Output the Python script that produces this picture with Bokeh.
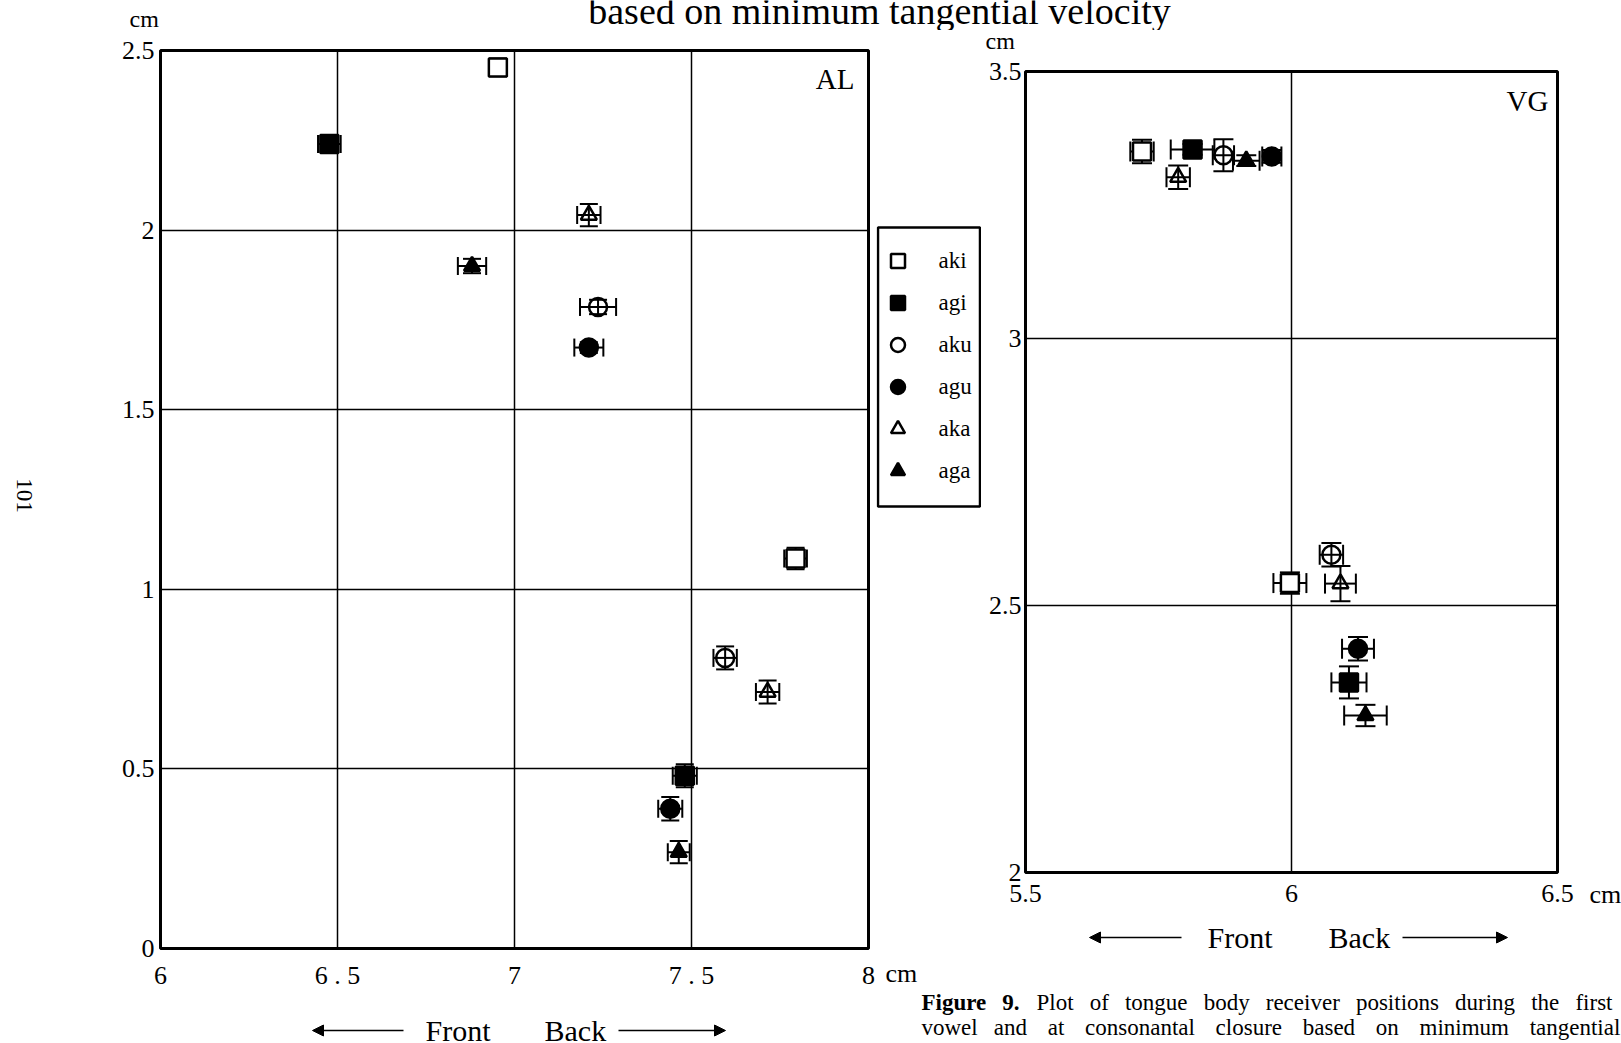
import math
from bokeh.plotting import figure
from bokeh.models import (Range1d, Label, Whisker, TeeHead, ColumnDataSource, Legend,
                          LegendItem, Arrow, NormalHead, FixedTicker, BoxAnnotation)
from bokeh.layouts import column, row
from bokeh.embed import file_html
from bokeh.resources import INLINE

# ---------------- data ----------------
categories = ["aki", "agi", "aku", "agu", "aka", "aga"]

# AL speaker: two points per category
al_x = [[6.953, 7.794], [6.477, 7.481], [7.236, 7.595], [7.210, 7.440], [7.210, 7.715], [6.880, 7.464]]
al_y = [[2.453, 1.086], [2.240, 0.481], [1.786, 0.809], [1.673, 0.389], [2.042, 0.714], [1.900, 0.268]]
al_xerr = [[0.025, 0.032], [0.032, 0.034], [0.051, 0.033], [0.041, 0.034], [0.033, 0.033], [0.040, 0.031]]
al_yerr = [[0.025, 0.030], [0.012, 0.032], [0.020, 0.032], [0.015, 0.033], [0.031, 0.032], [0.020, 0.031]]

# VG speaker
vg_x = [[5.719, 5.997], [5.814, 6.108], [5.872, 6.075], [5.963, 6.125], [5.787, 6.092], [5.915, 6.139]]
vg_y = [[3.350, 2.542], [3.354, 2.356], [3.343, 2.595], [3.341, 2.419], [3.302, 2.541], [3.333, 2.294]]
vg_xerr = [[0.022, 0.031], [0.041, 0.033], [0.020, 0.022], [0.018, 0.030], [0.022, 0.029], [0.025, 0.040]]
vg_yerr = [[0.022, 0.020], [0.010, 0.030], [0.030, 0.022], [0.012, 0.022], [0.022, 0.033], [0.010, 0.020]]

al_xticks = [6, 6.5, 7, 7.5, 8]
al_xlabels = ["6", "6 . 5", "7", "7 . 5", "8"]
al_yticks = [0, 0.5, 1, 1.5, 2, 2.5]
al_ylabels = ["0", "0.5", "1", "1.5", "2", "2.5"]
vg_xticks = [5.5, 6, 6.5]
vg_xlabels = ["5.5", "6", "6.5"]
vg_yticks = [2, 2.5, 3, 3.5]
vg_ylabels = ["2", "2.5", "3", "3.5"]

title_text = "based on minimum tangential velocity"
caption_bold = "Figure 9."
caption_line1 = "Plot of tongue body receiver positions during the first"
caption_line2 = "vowel and at consonantal closure based on minimum tangential"

# ---------------- styles ----------------
FONT = "Liberation Serif"
marker_style = {"aki": ("square", False), "agi": ("square", True),
                "aku": ("circle", False), "agu": ("circle", True),
                "aka": ("triangle", False), "aga": ("triangle", True)}
marker_size = {"square": 18, "circle": 18, "triangle": 16}


def txt(p, x, y, s, size, align="left", baseline="middle", style="normal", angle=0.0):
    p.add_layout(Label(x=x, y=y, x_units="screen", y_units="screen", text=s,
                       text_font=FONT, text_font_size=f"{size}px", text_align=align,
                       text_baseline=baseline, text_font_style=style, angle=angle,
                       text_color="black"))


def arrow(p, x0, x1, y):
    p.add_layout(Arrow(end=NormalHead(size=11, fill_color="black", line_color="black", line_width=1),
                       x_start=x0, y_start=y, x_end=x1, y_end=y,
                       start_units="screen", end_units="screen",
                       line_color="black", line_width=1.6))


def blank(w, h, xr=None, yr=None):
    f = figure(width=w, height=h,
               x_range=xr if xr is not None else Range1d(0, w),
               y_range=yr if yr is not None else Range1d(0, h), min_border=0,
               toolbar_location=None, output_backend="svg", x_axis_location=None,
               y_axis_location=None, title=None, frame_align=False)
    f.outline_line_color = None
    f.grid.visible = False
    f.background_fill_color = "white"
    f.border_fill_color = "white"
    return f


def style_plot(p, xticks, xlabels, yticks, ylabels, ystandoff):
    p.outline_line_color = "black"
    p.outline_line_width = 3
    p.background_fill_color = "white"
    p.border_fill_color = "white"
    p.xaxis.ticker = FixedTicker(ticks=xticks)
    p.yaxis.ticker = FixedTicker(ticks=yticks)
    p.xaxis.major_label_overrides = dict(zip(xticks, xlabels))
    p.yaxis.major_label_overrides = dict(zip(yticks, ylabels))
    for ax in (p.xaxis, p.yaxis):
        ax.axis_line_color = None
        ax.major_tick_line_color = None
        ax.minor_tick_line_color = None
        ax.major_tick_out = 0
        ax.major_tick_in = 0
        ax.minor_tick_out = 0
        ax.minor_tick_in = 0
        ax.major_label_text_font = FONT
        ax.major_label_text_font_size = "26px"
        ax.major_label_text_color = "black"
    p.xaxis.major_label_standoff = 12
    p.yaxis.major_label_standoff = ystandoff
    p.xgrid.ticker = FixedTicker(ticks=xticks)
    p.ygrid.ticker = FixedTicker(ticks=yticks)
    p.grid.grid_line_color = "black"
    p.grid.grid_line_width = 1.5
    p.grid.grid_line_alpha = 1.0


def marker_kw(cat):
    m, filled = marker_style[cat]
    opaque = filled or m == "square"
    return dict(marker=m, size=marker_size[m], fill_color="black" if filled else "white",
                fill_alpha=1.0 if opaque else 0.0, line_color="black", line_width=2.5)


def draw_points(p, xs, ys, xerrs, yerrs, cap):
    bx, by, bxl, bxu, byl, byu = [], [], [], [], [], []
    for i in range(len(categories)):
        for j in range(len(xs[i])):
            bx.append(xs[i][j]); by.append(ys[i][j])
            bxl.append(xs[i][j] - xerrs[i][j]); bxu.append(xs[i][j] + xerrs[i][j])
            byl.append(ys[i][j] - yerrs[i][j]); byu.append(ys[i][j] + yerrs[i][j])
    src = ColumnDataSource(dict(x=bx, y=by, xl=bxl, xu=bxu, yl=byl, yu=byu))
    for dim, base, lo, up in (("width", "y", "xl", "xu"), ("height", "x", "yl", "yu")):
        p.add_layout(Whisker(source=src, base=base, lower=lo, upper=up, dimension=dim,
                             line_color="black", line_width=2,
                             upper_head=TeeHead(size=cap, line_width=2, line_color="black"),
                             lower_head=TeeHead(size=cap, line_width=2, line_color="black")))
    for i, cat in enumerate(categories):
        p.scatter(x=xs[i], y=ys[i], **marker_kw(cat))


# ---------------- title strip (0..30) ----------------
top = blank(1621, 30)
txt(top, 879, 20, title_text, 38, align="center")
txt(top, 129, 11.2, "cm", 24)

# ---------------- left block ----------------
s101 = blank(40, 965)
txt(s101, 23.5, 500, "101", 23, align="center", angle=-math.pi / 2)

p1 = figure(width=836, height=965, x_range=Range1d(6, 8), y_range=Range1d(0, 2.5),
            min_border_left=120, min_border_right=8, min_border_top=20, min_border_bottom=47,
            toolbar_location=None, output_backend="svg", frame_align=False)
style_plot(p1, al_xticks, al_xlabels, al_yticks, al_ylabels, 6)
draw_points(p1, al_x, al_y, al_xerr, al_yerr, 18)
txt(p1, 694, 870, "AL", 29, align="right")

s_bl = blank(876, 48)
txt(s_bl, 425, 13.2, "Front", 30)
txt(s_bl, 544, 13.2, "Back", 30)
arrow(s_bl, 403, 312, 13)
arrow(s_bl, 618, 725, 13)

# ---------------- right block ----------------
s_t7 = blank(745, 20)
txt(s_t7, 109, 9.6, "cm", 24)

# legend panel (876..981); its ranges keep the sample glyphs out of view,
# so only the legend itself is shown here
lg = blank(105, 866, xr=Range1d(-2, -1), yr=Range1d(-2, -1))
lg_rends = {c: lg.scatter(x=vg_x[i], y=vg_y[i], **marker_kw(c)) for i, c in enumerate(categories)}
legend = Legend(items=[LegendItem(label=c, renderers=[lg_rends[c]]) for c in categories],
                location=(3.5, 428), orientation="vertical",
                glyph_width=35, glyph_height=35, spacing=7, padding=0, margin=0,
                label_standoff=24, label_height=35,
                label_text_font=FONT, label_text_font_size="23px",
                label_text_color="black", border_line_alpha=0, background_fill_alpha=0,
                inactive_fill_alpha=0)
lg.add_layout(legend, "center")
lg.add_layout(BoxAnnotation(left=1.5, right=103.5, top=689, bottom=410,
                            left_units="screen", right_units="screen",
                            top_units="screen", bottom_units="screen",
                            fill_alpha=0, line_color="black", line_alpha=1.0, line_width=2.5))

p2 = figure(width=599, height=866, x_range=Range1d(5.5, 6.5), y_range=Range1d(2, 3.5),
            min_border_left=44, min_border_right=23, min_border_top=21, min_border_bottom=44,
            toolbar_location=None, output_backend="svg", frame_align=False)
style_plot(p2, vg_xticks, vg_xlabels, vg_yticks, vg_ylabels, 4)
draw_points(p2, vg_x, vg_y, vg_xerr, vg_yerr, 20)
txt(p2, 523, 771.3, "VG", 29, align="right")

s_t8 = blank(41, 866)
txt(s_t8, 9, 21.8, "cm", 26)

s_br = blank(745, 127)
txt(s_br, 9, 70, "cm", 26)
txt(s_br, 331, 106.2, "Front", 30)
txt(s_br, 452, 106.2, "Back", 30)
arrow(s_br, 305, 213, 106)
arrow(s_br, 526, 631, 106)
gap1 = "\u2002\u2009"
gap2 = "\u2002\u2009\u2009"
w2 = caption_line2.split(" ")
line2 = w2[0] + gap1 + gap2.join(w2[1:])
txt(s_br, 45, 40.8, caption_bold.replace(" ", gap1), 23, style="bold")
txt(s_br, 160, 40.8, gap1.join(caption_line1.split(" ")), 23)
txt(s_br, 45, 15.8, line2, 23)

left_col = column(row(s101, p1), s_bl)
right_col = column(s_t7, row(lg, p2, s_t8), s_br)
layout = column(top, row(left_col, right_col))
open("out.html", "w").write(file_html(layout, INLINE))
